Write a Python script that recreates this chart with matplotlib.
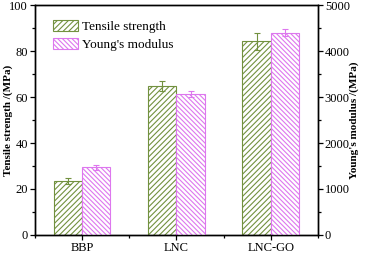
import matplotlib
matplotlib.use('Agg')
import matplotlib.pyplot as plt
import numpy as np
from matplotlib.ticker import MultipleLocator

plt.rcParams['font.family'] = ['Liberation Serif', 'DejaVu Serif']
plt.rcParams['hatch.linewidth'] = 0.8

samples = ['BBP', 'LNC', 'LNC-GO']
tensile = [23.5, 64.8, 84.2]
tensile_err = [1.4, 2.2, 3.7]
modulus = [1470, 3070, 4400]
modulus_err = [50, 70, 80]

green = '#72913f'
violet = '#dd77ee'

fig = plt.figure(figsize=(3.65, 2.54), dpi=100)
ax = fig.add_axes([0.096, 0.075, 0.775, 0.905])
ax2 = ax.twinx()

x = np.arange(1, len(samples) + 1)
w = 0.3

# 左边拉伸强度，右边杨氏模量
ax.bar(x - w / 2, tensile, w, facecolor='white', edgecolor=green, hatch='//////',
       linewidth=0.8, label='Tensile strength')
ax.errorbar(x - w / 2, tensile, yerr=tensile_err, fmt='none', ecolor=green,
            elinewidth=0.8, capsize=2, capthick=0.8)
ax2.bar(x + w / 2, modulus, w, facecolor='white', edgecolor=violet, hatch='\\\\\\\\\\\\\\',
        linewidth=0.8, label="Young's modulus")
ax2.errorbar(x + w / 2, modulus, yerr=modulus_err, fmt='none', ecolor=violet,
             elinewidth=0.8, capsize=2, capthick=0.8)

ax.set_xlim(0.5, 3.5)
ax.set_ylim(0, 100)
ax2.set_ylim(0, 5000)
ax.set_xticks(x)
ax.set_xticklabels(samples)
ax.xaxis.set_minor_locator(MultipleLocator(0.5))
ax.yaxis.set_major_locator(MultipleLocator(20))
ax.yaxis.set_minor_locator(MultipleLocator(10))
ax2.yaxis.set_major_locator(MultipleLocator(1000))
ax2.yaxis.set_minor_locator(MultipleLocator(500))

for a in (ax, ax2):
    a.tick_params(labelsize=9, width=0.9, length=3.5, pad=1.5)
    a.tick_params(which='minor', width=0.9, length=2)
    for s in a.spines.values():
        s.set_linewidth(1.0)

ax.set_ylabel('Tensile strength /(MPa)', fontsize=8, fontweight='bold')
ax2.set_ylabel("Young's modulus /(MPa)", fontsize=8, fontweight='bold')
# 标签位置手动放，不然会被裁掉
ax.yaxis.set_label_coords(-0.078, 0.5)
ax2.yaxis.set_label_coords(1.112, 0.5)

h1, l1 = ax.get_legend_handles_labels()
h2, l2 = ax2.get_legend_handles_labels()
ax.legend(h1 + h2, l1 + l2, loc='upper left', bbox_to_anchor=(0.064, 0.935), frameon=False,
          fontsize=9.5, handlelength=1.9, handleheight=0.9, labelspacing=0.4,
          handletextpad=0.3, borderpad=0, borderaxespad=0)

fig.savefig('out.png', dpi=100)
